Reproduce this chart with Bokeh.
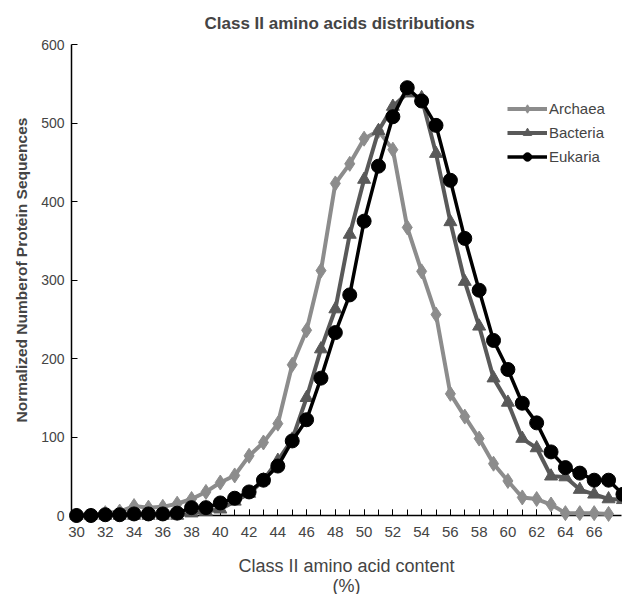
from bokeh.plotting import figure
from bokeh.models import Range1d, SingleIntervalTicker, Legend, LegendItem, Title
from bokeh.embed import file_html
from bokeh.resources import INLINE

content = list(range(30, 69))
archaea_x = list(range(30, 68))
archaea = [0, 0, 3, 5, 12, 10, 11, 15,
           21, 30, 42, 51, 76, 93, 117, 192, 236, 312,
           423, 448, 480, 490, 466, 367, 311, 256, 155, 126,
           98, 66, 44, 23, 21, 14, 3, 3, 3, 2]
bacteria = [0, 0, 0, 0, 0, 0, 0, 0,
            3, 5, 8, 18, 28, 45, 70, 97, 150, 212,
            263, 358, 428, 490, 521, 538, 532, 461, 374, 298,
            241, 175, 144, 98, 86, 50, 49, 33, 27, 21, 20]
eukaria = [0, 0, 1, 1, 2, 2, 2, 3,
           10, 10, 16, 22, 30, 45, 63, 95, 122, 175,
           233, 281, 375, 445, 508, 545, 528, 497, 427, 353,
           287, 223, 186, 143, 118, 81, 61, 54, 45, 45, 27]
y_ticks = [0, 100, 200, 300, 400, 500, 600]

FONT = "Liberation Sans"

p = figure(frame_width=550, frame_height=471, output_backend="svg",
           toolbar_location=None, x_range=Range1d(29.65, 67.9),
           y_range=Range1d(0, 600), min_border_left=71, min_border_right=1,
           min_border_top=44, min_border_bottom=60)
p.outline_line_color = None
p.grid.visible = False

# axes
p.xaxis.ticker = SingleIntervalTicker(interval=2, num_minor_ticks=2)
p.xaxis.major_tick_in = 6
p.xaxis.major_tick_out = 0
p.xaxis.minor_tick_in = 6
p.xaxis.minor_tick_out = 0
p.xaxis.major_label_text_font = FONT
p.xaxis.major_label_text_font_size = "15px"
p.xaxis.major_label_standoff = 11
p.xaxis.axis_line_width = 1.5
p.xaxis.axis_label = "Class II amino acid content\n(%)"
p.xaxis.axis_label_text_font = FONT
p.xaxis.axis_label_text_font_size = "18px"
p.xaxis.axis_label_text_font_style = "normal"
p.xaxis.axis_label_text_line_height = 1.0
p.xaxis.axis_label_standoff = 16

p.yaxis.ticker = y_ticks
p.yaxis.major_tick_in = 6
p.yaxis.major_tick_out = 0
p.yaxis.minor_tick_line_color = None
p.yaxis.major_label_text_font = FONT
p.yaxis.major_label_text_font_size = "14px"
p.yaxis.major_label_standoff = 7
p.yaxis.axis_line_width = 1.5

# chart title and y label as titles in the side panels
p.add_layout(Title(text="Class II amino acids distributions", align="left", offset=133,
                   standoff=23, text_font=FONT, text_font_size="17px",
                   text_font_style="bold"), "above")
p.add_layout(Title(text="Normalized Numberof Protein Sequences", align="left", offset=93,
                   standoff=18, text_font=FONT, text_font_size="15.5px",
                   text_font_style="bold"), "left")

c_a, c_b, c_e = "#8c8c8c", "#595959", "#000000"

la = p.line(archaea_x, archaea, line_color=c_a, line_width=4, level="overlay")
ma = p.scatter(archaea_x, archaea, marker="diamond", size=15, fill_color=c_a, line_color=c_a, level="overlay")
lb = p.line(content, bacteria, line_color=c_b, line_width=4, level="overlay")
mb = p.scatter(content, bacteria, marker="triangle", size=13, fill_color=c_b, line_color=c_b, level="overlay")
le = p.line(content, eukaria, line_color=c_e, line_width=3.5, level="overlay")
me = p.scatter(content, eukaria, marker="circle", size=14, fill_color=c_e, line_color=c_e, level="overlay")

legend = Legend(items=[
    LegendItem(label="Archaea", renderers=[la, ma]),
    LegendItem(label="Bacteria", renderers=[lb, mb]),
    LegendItem(label="Eukaria", renderers=[le, me]),
], location=(436, 348), padding=0, margin=0, spacing=3,
   glyph_width=40, glyph_height=21, label_height=21, label_standoff=2,
   border_line_color=None, background_fill_alpha=0,
   label_text_font=FONT, label_text_font_size="15px")
p.add_layout(legend)

open("out.html", "w").write(file_html(p, INLINE))
